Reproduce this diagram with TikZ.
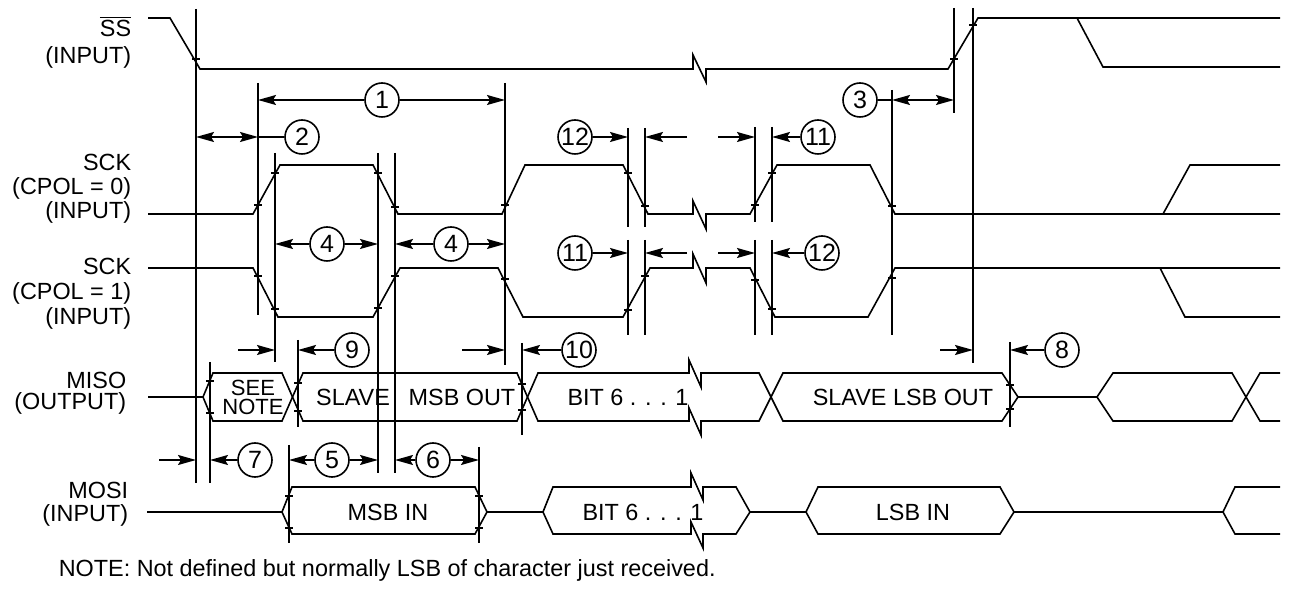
\documentclass[tikz,border=0pt]{standalone}
\usepackage{fontspec}
\setmainfont{Liberation Sans}
\usetikzlibrary{arrows.meta}
\newcommand{\tk}[2]{\draw (#1-4,#2) -- (#1+4,#2);}
\begin{document}
\begin{tikzpicture}[x=0.5pt,y=-0.5pt,line width=0.8pt,
  dim/.style={-{Stealth[length=9pt,width=5pt,inset=1.5pt]}},
  dimboth/.style={{Stealth[length=9pt,width=5pt,inset=1.5pt]}-{Stealth[length=9pt,width=5pt,inset=1.5pt]}},
  num/.style={draw,circle,fill=white,minimum size=17pt,inner sep=0pt,
              font=\fontsize{12.5}{13}\selectfont},
  lbl/.style={anchor=base east,inner sep=0pt,font=\fontsize{11.7}{12}\selectfont},
  txt/.style={font=\fontsize{11.7}{12}\selectfont}
]
\useasboundingbox (0,0) rectangle (1291,592);

% signal names
\node[lbl] (ssA) at (132,37) {$\overline{\mbox{SS}}$};
\node[lbl] (ssB) at (132,64) {(INPUT)};
\node[lbl] (ckA) at (132,171) {SCK};
\node[lbl] (ckB) at (132,195) {(CPOL = 0)};
\node[lbl] (ckC) at (132,219) {(INPUT)};
\node[lbl] (cpA) at (132,275) {SCK};
\node[lbl] (cpB) at (132,300) {(CPOL = 1)};
\node[lbl] (cpC) at (132,325) {(INPUT)};
\node[lbl] (soA) at (127,389) {MISO};
\node[lbl] (soB) at (127,410) {(OUTPUT)};
\node[lbl] (siA) at (129,499) {MOSI};
\node[lbl] (siB) at (129,522) {(INPUT)};

% SS
\draw (148,18) -- (170,18) -- (200,69) -- (693,69) -- (693,55) -- (706,82) -- (706,69)
  -- (948,69) -- (978,18) -- (1280,18);
\draw (1077,18) -- (1103,67) -- (1280,67);

% SCK, CPOL = 0
\draw (148,214) -- (253,214) -- (280,165) -- (373,165) -- (398,214) -- (502,214)
  -- (525,165) -- (623,165) -- (648,214) -- (693,214) -- (693,201) -- (706,229)
  -- (706,214) -- (750,214) -- (777,165) -- (870,165) -- (895,214) -- (1280,214);
\draw (1163,214) -- (1190,165) -- (1280,165);

% SCK, CPOL = 1
\draw (148,268) -- (253,268) -- (278,317) -- (373,317) -- (400,268) -- (498,268)
  -- (523,317) -- (623,317) -- (650,268) -- (693,268) -- (693,254) -- (706,283)
  -- (706,268) -- (750,268) -- (775,317) -- (868,317) -- (895,268) -- (1280,268);
\draw (1160,268) -- (1185,317) -- (1280,317);

% MISO
\draw (148,397) -- (203,397) -- (213,373) -- (282,373) -- (303,421) -- (517,421)
  -- (538,373) -- (689,373) -- (689,360) -- (701,387) -- (701,373) -- (759,373)
  -- (783,421) -- (1002,421) -- (1018,397) -- (1097,397) -- (1113,373) -- (1232,373)
  -- (1260,421) -- (1280,421);
\draw (203,397) -- (213,421) -- (282,421) -- (303,373) -- (517,373) -- (538,421)
  -- (689,421) -- (689,408) -- (701,435) -- (701,421) -- (759,421) -- (783,373)
  -- (1002,373) -- (1018,397);
\draw (1097,397) -- (1113,421) -- (1232,421) -- (1260,373) -- (1280,373);

% MOSI
\draw (147,512) -- (282,512) -- (292,487) -- (475,487) -- (487,512) -- (543,512)
  -- (553,487) -- (691,487) -- (691,473) -- (703,500) -- (703,487) -- (736,487)
  -- (750,512) -- (806,512) -- (818,487) -- (1000,487) -- (1014,512) -- (1223,512)
  -- (1235,487) -- (1280,487);
\draw (282,512) -- (292,534) -- (475,534) -- (487,512);
\draw (543,512) -- (553,534) -- (691,534) -- (691,522) -- (703,548) -- (703,534)
  -- (736,534) -- (750,512);
\draw (806,512) -- (818,534) -- (1000,534) -- (1014,512);
\draw (1223,512) -- (1235,534) -- (1280,534);

% data labels
\node[font=\fontsize{11}{9.5}\selectfont,align=center,inner sep=0pt] (see) at (253,397) {SEE\\NOTE};
\node[txt] (slv) at (353,397) {SLAVE};
\node[txt] (msbo) at (462,397) {MSB OUT};
\node[txt] (bito) at (628,397) {BIT 6 . . . 1};
\node[txt] (lsbo) at (903,397) {SLAVE LSB OUT};
\node[txt] (msbi) at (388,512) {MSB IN};
\node[txt] (biti) at (643,512) {BIT 6 . . . 1};
\node[txt] (lsbi) at (913,512) {LSB IN};

% reference lines
\foreach \x/\ya/\yb in {196/9/483, 258/83/315, 275/153/362, 298/340/427, 378/153/473,
    395/153/473, 505/83/365, 522/343/435, 628/128/227, 645/128/227, 628/240/335,
    645/240/335, 755/127/222, 772/127/222, 755/240/335, 772/240/335, 892/90/335,
    954/8/113, 973/8/363, 1010/342/427, 210/362/483, 289/445/543, 479/447/543}
  {\draw (\x,\ya) -- (\x,\yb);}

% crossing marks
\foreach \x/\y in {196/59, 954/59, 973/25,
    258/205, 275/173, 378/173, 395/207, 505/205, 628/173, 645/206, 755/205, 772/173, 892/206,
    258/276, 275/309, 378/308, 395/276, 505/279, 628/310, 645/276, 755/280, 772/309, 892/278,
    210/381, 210/413, 298/383, 298/411, 522/384, 522/410, 1010/385, 1010/409,
    289/496, 289/528, 479/496, 479/528}
  {\tk{\x}{\y}}

% timing numbers
\node[num] (n1) at (382,100) {1};
\node[num] (n2) at (302,137) {2};
\node[num] (n3) at (860,100) {3};
\node[num] (n4a) at (327,244) {4};
\node[num] (n4b) at (451,244) {4};
\node[num] (n12a) at (575,137) {12};
\node[num] (n11a) at (818,137) {11};
\node[num] (n11b) at (575,253) {11};
\node[num] (n12b) at (822,253) {12};
\node[num] (n9) at (352,350) {9};
\node[num] (n10) at (579,350) {10};
\node[num] (n8) at (1062,350) {8};
\node[num] (n7) at (255,460) {7};
\node[num] (n5) at (332,460) {5};
\node[num] (n6) at (433,460) {6};

% dimension arrows
\draw[dim] (n1) -- (258,100);
\draw[dim] (n1) -- (505,100);
\draw[dimboth] (196,137) -- (258,137);
\draw (258,137) -- (n2);
\draw (n3) -- (892,100);
\draw[dimboth] (892,100) -- (954,100);
\draw[dim] (n4a) -- (275,244);
\draw[dim] (n4a) -- (378,244);
\draw[dim] (n4b) -- (395,244);
\draw[dim] (n4b) -- (505,244);
\draw[dim] (n12a) -- (628,137);
\draw[dim] (687,137) -- (645,137);
\draw[dim] (718,137) -- (755,137);
\draw[dim] (n11a) -- (772,137);
\draw[dim] (n11b) -- (628,253);
\draw[dim] (687,253) -- (645,253);
\draw[dim] (718,253) -- (755,253);
\draw[dim] (n12b) -- (772,253);
\draw[dim] (238,350) -- (275,350);
\draw[dim] (n9) -- (298,350);
\draw[dim] (462,350) -- (505,350);
\draw[dim] (n10) -- (522,350);
\draw[dim] (940,350) -- (973,350);
\draw[dim] (n8) -- (1010,350);
\draw[dim] (159,460) -- (196,460);
\draw[dim] (n7) -- (210,460);
\draw[dim] (n5) -- (289,460);
\draw[dim] (n5) -- (378,460);
\draw[dim] (n6) -- (395,460);
\draw[dim] (n6) -- (479,460);

\node[txt,anchor=west,inner sep=0pt] (note) at (58,570) {NOTE: Not defined but normally LSB of character just received.};
\end{tikzpicture}
\end{document}
